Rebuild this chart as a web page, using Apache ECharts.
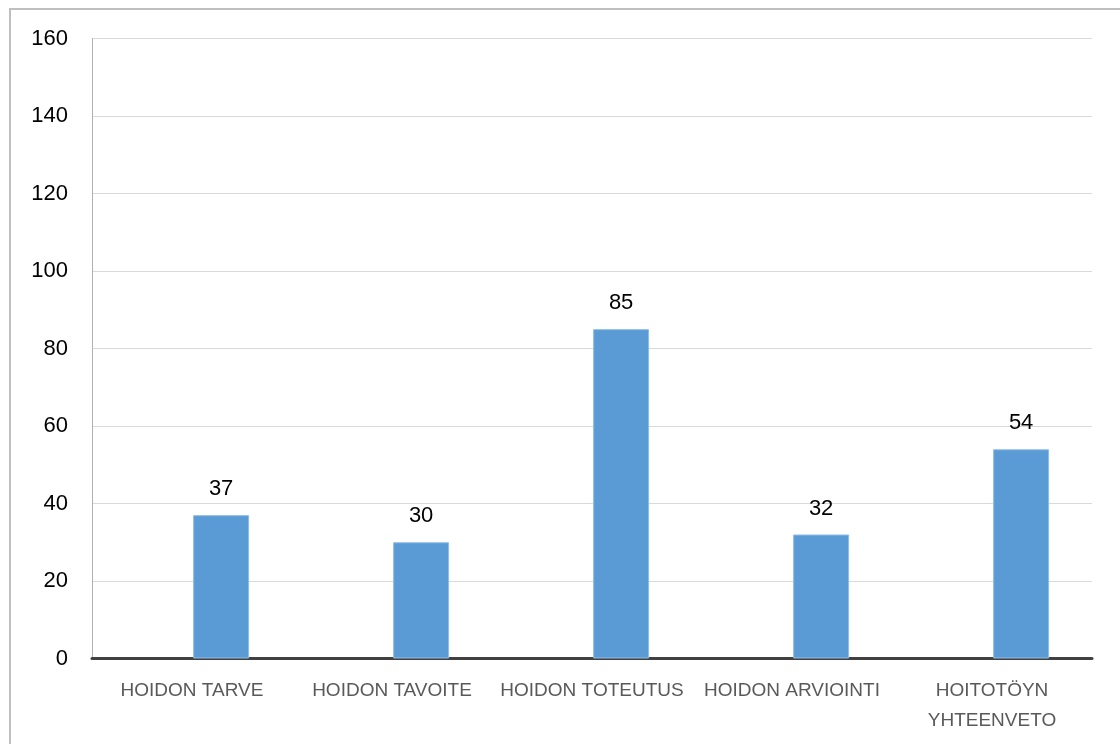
<!DOCTYPE html>
<html>
<head>
<meta charset="utf-8">
<script src="https://cdn.jsdelivr.net/npm/echarts@6/dist/echarts.min.js"></script>
<style>
html,body{margin:0;padding:0;background:#fff;}
#chart{width:1120px;height:744px;}
</style>
</head>
<body>
<div id="chart"></div>
<script>
var categories = ['HOIDON TARVE', 'HOIDON TAVOITE', 'HOIDON TOTEUTUS', 'HOIDON ARVIOINTI', 'HOITOTÖYN\nYHTEENVETO'];
var emptySeries = ['-', '-', '-', '-', '-'];
var values = [37, 30, 85, 32, 54];
var yTicks = {min: 0, max: 160, interval: 20};

var font = 'Liberation Sans';
var chart = echarts.init(document.getElementById('chart'));
chart.setOption({
  animation: false,
  backgroundColor: '#fff',
  graphic: [{
    type: 'rect',
    shape: {x: 10, y: 9, width: 1300, height: 900},
    style: {fill: 'none', stroke: '#bfbfbf', lineWidth: 2},
    silent: true
  }],
  grid: {left: 92, right: 28, top: 38.5, bottom: 85.5, containLabel: false},
  xAxis: {
    type: 'category',
    data: categories,
    axisLine: {show: true, lineStyle: {color: '#404040', width: 3}},
    axisTick: {show: false},
    axisLabel: {
      interval: 0,
      color: '#595959',
      fontFamily: font,
      fontSize: 19,
      lineHeight: 30,
      margin: 17
    }
  },
  yAxis: {
    type: 'value',
    min: yTicks.min,
    max: yTicks.max,
    interval: yTicks.interval,
    axisLine: {show: true, lineStyle: {color: '#b0b0b0', width: 1}},
    axisTick: {show: false},
    splitLine: {lineStyle: {color: '#d9d9d9', width: 1}},
    axisLabel: {color: '#000', fontFamily: font, fontSize: 22, margin: 24}
  },
  series: [
    {
      type: 'bar',
      data: emptySeries,
      barWidth: 56,
      barGap: '4%'
    },
    {
      type: 'bar',
      data: values,
      barWidth: 56,
      barGap: '4%',
      itemStyle: {color: '#5b9bd5', borderColor: '#8fbde6', borderWidth: 1},
      label: {
        show: true,
        position: 'top',
        distance: 15,
        color: '#000',
        fontFamily: font,
        fontSize: 22
      }
    }
  ]
});
</script>
</body>
</html>
